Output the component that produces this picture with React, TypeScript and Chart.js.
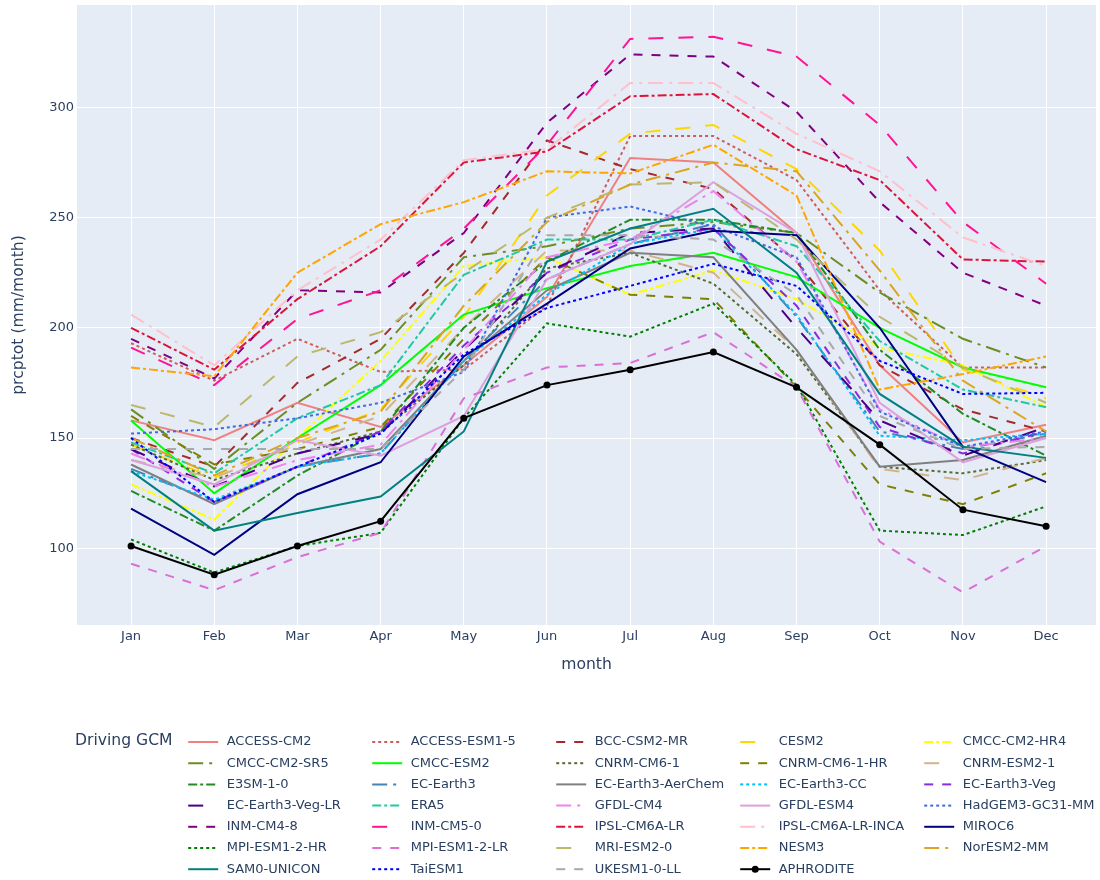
import React, { useEffect, useRef } from 'react';
import { Chart, registerables } from 'chart.js';

Chart.register(...registerables);

// ---------------- data ----------------
const months = ['Jan', 'Feb', 'Mar', 'Apr', 'May', 'Jun', 'Jul', 'Aug', 'Sep', 'Oct', 'Nov', 'Dec'];
const monthIndex = [0, 1, 2, 3, 4, 5, 6, 7, 8, 9, 10, 11];
const yTicks = [100, 150, 200, 250, 300];

const ACCESS_CM2 = [158, 149, 166, 155, 183, 214, 277, 275, 243, 183, 148, 156];
const ACCESS_ESM1_5 = [193, 176, 195, 180, 181, 210, 287, 287, 267, 217, 182, 182];
const BCC_CSM2_MR = [150, 137, 175, 195, 234, 285, 272, 263, 230, 183, 163, 153];
const CESM2 = [147, 132, 148, 163, 205, 260, 288, 292, 272, 235, 181, 168];
const CMCC_CM2_HR4 = [129, 113, 150, 185, 228, 232, 215, 226, 213, 191, 183, 164];
const CMCC_CM2_SR5 = [163, 136, 166, 190, 232, 237, 245, 248, 243, 216, 195, 182];
const CMCC_ESM2 = [158, 125, 150, 174, 206, 218, 228, 234, 223, 200, 182, 173];
const CNRM_CM6_1 = [147, 131, 143, 153, 183, 227, 234, 220, 188, 137, 134, 140];
const CNRM_CM6_1_HR = [160, 138, 145, 155, 195, 232, 215, 213, 173, 129, 120, 134];
const CNRM_ESM2_1 = [140, 132, 147, 160, 200, 235, 235, 225, 190, 136, 131, 141];
const E3SM_1_0 = [126, 108, 133, 153, 200, 230, 249, 249, 243, 190, 161, 142];
const EC_Earth3 = [136, 121, 137, 143, 185, 222, 238, 247, 205, 153, 145, 152];
const EC_Earth3_AerChem = [138, 120, 137, 145, 185, 217, 234, 232, 190, 137, 140, 151];
const EC_Earth3_CC = [135, 122, 137, 143, 185, 215, 238, 245, 206, 151, 149, 152];
const EC_Earth3_Veg = [145, 121, 137, 153, 192, 225, 240, 245, 210, 155, 143, 153];
const EC_Earth3_Veg_LR = [145, 128, 143, 152, 190, 225, 243, 245, 200, 158, 142, 155];
const ERA5 = [148, 134, 159, 174, 224, 240, 240, 249, 237, 194, 172, 164];
const GFDL_CM4 = [143, 128, 140, 147, 190, 232, 240, 262, 230, 163, 146, 150];
const GFDL_ESM4 = [140, 129, 149, 142, 160, 222, 238, 266, 243, 166, 139, 150];
const HadGEM3_GC31_MM = [152, 154, 159, 166, 180, 250, 255, 246, 232, 162, 146, 153];
const INM_CM4_8 = [195, 177, 217, 216, 243, 293, 324, 323, 298, 257, 225, 210];
const INM_CM5_0 = [191, 174, 204, 217, 245, 283, 331, 332, 323, 292, 248, 220];
const IPSL_CM6A_LR = [200, 181, 213, 237, 275, 280, 305, 306, 281, 267, 231, 230];
const IPSL_CM6A_LR_INCA = [206, 183, 217, 240, 276, 281, 311, 311, 288, 271, 241, 228];
const MIROC6 = [118, 97, 124.5, 139, 187, 211, 236, 244, 242, 200, 146, 130];
const MPI_ESM1_2_HR = [104, 89, 101, 107, 159, 202, 196, 211, 174, 108, 106, 119];
const MPI_ESM1_2_LR = [93, 81, 96, 107, 168, 182, 184, 198, 173, 103, 80, 101];
const MRI_ESM2_0 = [165, 155, 187, 198, 225, 250, 265, 266, 240, 205, 182, 166];
const NESM3 = [182, 178, 225, 247, 257, 271, 270, 283, 260, 172, 179, 187];
const NorESM2_MM = [150, 133, 150, 162, 210, 248, 265, 275, 271, 226, 176, 153];
const SAM0_UNICON = [135, 108, 116, 123.5, 153, 230, 245, 254, 225, 170, 146, 141];
const TaiESM1 = [150, 121, 137, 152, 188, 209, 219, 229, 219, 185, 170, 170.5];
const UKESM1_0_LL = [145, 145, 145, 145, 181, 242, 242, 240, 215, 160, 145, 146];
const APHRODITE = [101, 88, 101, 112.3, 159, 174, 181, 189, 173, 147, 117.5, 110];

const seriesNames = [
  'ACCESS-CM2', 'ACCESS-ESM1-5', 'BCC-CSM2-MR', 'CESM2', 'CMCC-CM2-HR4',
  'CMCC-CM2-SR5', 'CMCC-ESM2', 'CNRM-CM6-1', 'CNRM-CM6-1-HR', 'CNRM-ESM2-1',
  'E3SM-1-0', 'EC-Earth3', 'EC-Earth3-AerChem', 'EC-Earth3-CC', 'EC-Earth3-Veg',
  'EC-Earth3-Veg-LR', 'ERA5', 'GFDL-CM4', 'GFDL-ESM4', 'HadGEM3-GC31-MM',
  'INM-CM4-8', 'INM-CM5-0', 'IPSL-CM6A-LR', 'IPSL-CM6A-LR-INCA', 'MIROC6',
  'MPI-ESM1-2-HR', 'MPI-ESM1-2-LR', 'MRI-ESM2-0', 'NESM3', 'NorESM2-MM',
  'SAM0-UNICON', 'TaiESM1', 'UKESM1-0-LL', 'APHRODITE',
];
const seriesValues = [
  ACCESS_CM2, ACCESS_ESM1_5, BCC_CSM2_MR, CESM2, CMCC_CM2_HR4,
  CMCC_CM2_SR5, CMCC_ESM2, CNRM_CM6_1, CNRM_CM6_1_HR, CNRM_ESM2_1,
  E3SM_1_0, EC_Earth3, EC_Earth3_AerChem, EC_Earth3_CC, EC_Earth3_Veg,
  EC_Earth3_Veg_LR, ERA5, GFDL_CM4, GFDL_ESM4, HadGEM3_GC31_MM,
  INM_CM4_8, INM_CM5_0, IPSL_CM6A_LR, IPSL_CM6A_LR_INCA, MIROC6,
  MPI_ESM1_2_HR, MPI_ESM1_2_LR, MRI_ESM2_0, NESM3, NorESM2_MM,
  SAM0_UNICON, TaiESM1, UKESM1_0_LL, APHRODITE,
];

// ---------------- styles ----------------
const seriesColors = [
  '#F08080', '#CD5C5C', '#A52A2A', '#FFD700', '#FFFF00',
  '#6B8E23', '#00FF00', '#556B2F', '#808000', '#D2B48C',
  '#228B22', '#4682B4', '#808080', '#00BFFF', '#8A2BE2',
  '#4B0082', '#20C9A0', '#EE82EE', '#DDA0DD', '#4169E1',
  '#800080', '#FF1493', '#DC143C', '#FFC0CB', '#000080',
  '#008000', '#DA70D6', '#BDB76B', '#FFA500', '#DAA520',
  '#008080', '#0000FF', '#A9A9A9', '#000000',
];
const dashCycle = ['solid', 'dot', 'dash', 'longdash', 'dashdot', 'longdashdot'];
const DASH: Record<string, number[]> = {
  solid: [],
  dot: [3, 3],
  dash: [9, 9],
  longdash: [15, 15],
  dashdot: [9, 3, 3, 3],
  longdashdot: [15, 6, 3, 6],
};

const TEXT = '#2a3f5f';
const FONT = '"DejaVu Sans", Verdana, sans-serif';
const PLOT_BG = '#E5ECF6';

const gridLegendPlugin = {
  id: 'gridLegend',
  beforeDraw(chart: any) {
    const { ctx, chartArea: a } = chart;
    ctx.save();
    ctx.fillStyle = PLOT_BG;
    ctx.fillRect(a.left, a.top, a.right - a.left, a.bottom - a.top);
    ctx.restore();
  },
  afterDraw(chart: any) {
    const ctx = chart.ctx as CanvasRenderingContext2D;
    ctx.save();
    ctx.textBaseline = 'middle';
    ctx.textAlign = 'left';
    ctx.fillStyle = TEXT;
    ctx.font = `15.6px ${FONT}`;
    ctx.fillText('Driving GCM', 75, 741);
    chart.data.datasets.forEach((ds: any, i: number) => {
      const col = i % 5;
      const row = Math.floor(i / 5);
      const tx = 226.7 + col * 184;
      const y = 742 + row * 21.2;
      ctx.strokeStyle = ds.borderColor;
      ctx.lineWidth = 2;
      ctx.setLineDash(ds.borderDash || []);
      ctx.beginPath();
      ctx.moveTo(tx - 38.5, y);
      ctx.lineTo(tx - 8.5, y);
      ctx.stroke();
      ctx.setLineDash([]);
      if (ds.pointRadius > 0) {
        ctx.fillStyle = ds.pointBackgroundColor;
        ctx.beginPath();
        ctx.arc(tx - 23.5, y, 3.5, 0, Math.PI * 2);
        ctx.fill();
      }
      ctx.fillStyle = TEXT;
      ctx.font = `13px ${FONT}`;
      ctx.fillText(ds.label, tx, y);
    });
    ctx.restore();
  },
};

export default function App() {
  const ref = useRef<HTMLCanvasElement | null>(null);

  useEffect(() => {
    if (!ref.current) return;
    const n = seriesNames.length;
    const datasets = seriesNames.map((name, i) => {
      const isObs = i === n - 1;
      return {
        label: name,
        data: seriesValues[i].map((v, j) => ({ x: monthIndex[j], y: v })),
        borderColor: seriesColors[i],
        backgroundColor: seriesColors[i],
        borderWidth: 2,
        borderDash: isObs ? [] : DASH[dashCycle[i % dashCycle.length]],
        pointRadius: isObs ? 3.5 : 0,
        pointBackgroundColor: seriesColors[i],
        pointBorderWidth: 0,
        fill: false,
        tension: 0,
        order: n - i,
      };
    });

    const chart = new Chart(ref.current, {
      type: 'line',
      data: { datasets },
      plugins: [gridLegendPlugin],
      options: {
        responsive: false,
        animation: false,
        devicePixelRatio: 1,
        layout: { padding: { left: 0, right: 3, top: 5, bottom: 195 } },
        plugins: { legend: { display: false }, tooltip: { enabled: false } },
        scales: {
          x: {
            type: 'linear',
            min: -0.65,
            max: 11.6,
            afterBuildTicks: (s: any) => {
              s.ticks = monthIndex.map((v) => ({ value: v }));
            },
            afterFit: (s: any) => {
              s.height = 60;
              s.paddingLeft = 0;
              s.paddingRight = 0;
            },
            ticks: {
              autoSkip: false,
              maxRotation: 0,
              padding: 4,
              color: TEXT,
              font: { family: FONT, size: 13 },
              callback: (v: any) => months[v as number] ?? '',
            },
            grid: { color: '#ffffff', lineWidth: 1, drawTicks: false },
            border: { display: false },
            title: {
              display: true,
              text: 'month',
              color: TEXT,
              font: { family: FONT, size: 15.6 },
              padding: { top: 0, bottom: 10.6 },
            },
          },
          y: {
            type: 'linear',
            min: 65.2,
            max: 346.4,
            afterBuildTicks: (s: any) => {
              s.ticks = yTicks.map((v) => ({ value: v }));
            },
            afterFit: (s: any) => {
              s.width = 77;
              s.paddingTop = 0;
              s.paddingBottom = 0;
            },
            ticks: {
              padding: 3,
              color: TEXT,
              font: { family: FONT, size: 13 },
            },
            grid: { color: '#ffffff', lineWidth: 1, drawTicks: false },
            border: { display: false },
            title: {
              display: true,
              text: 'prcptot (mm/month)',
              color: TEXT,
              font: { family: FONT, size: 15.6 },
              padding: { top: 9.6, bottom: 0 },
            },
          },
        },
      } as any,
    });
    return () => chart.destroy();
  }, []);

  return (
    <div style={{ position: 'absolute', left: 0, top: 0, width: 1100, height: 880, background: '#fff' }}>
      <canvas ref={ref} width={1100} height={880} style={{ display: 'block' }} />
    </div>
  );
}
